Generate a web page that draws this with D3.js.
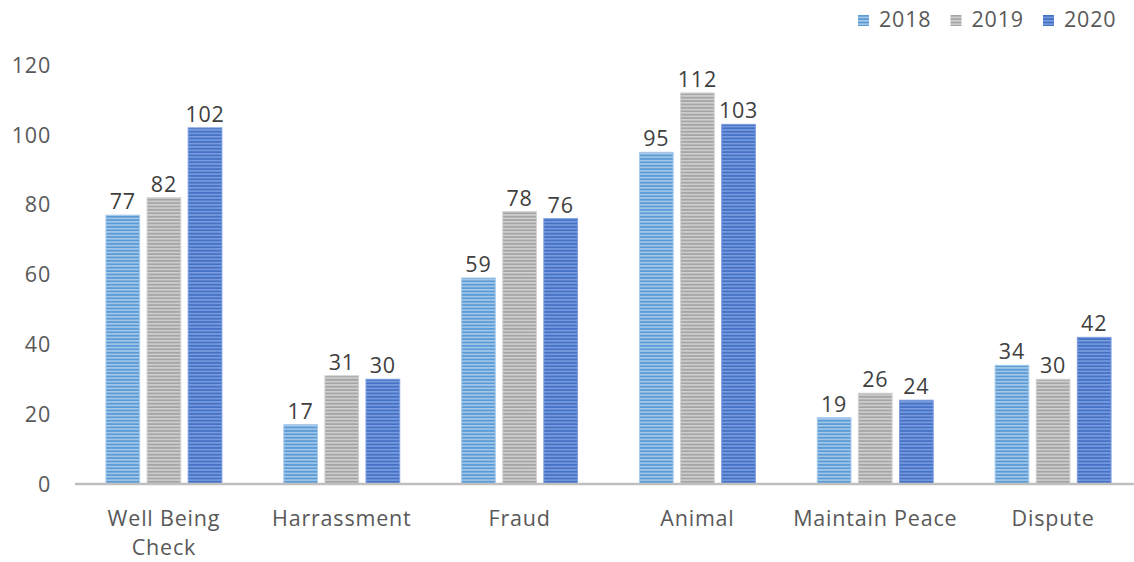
<!DOCTYPE html>
<html>
<head>
<meta charset="utf-8">
<script src="https://cdn.jsdelivr.net/npm/d3@7"></script>
<style>
  html, body { margin: 0; padding: 0; background: #fff; }
  svg { display: block; font-family: "Open Sans", sans-serif; }
  svg text { letter-spacing: 0.8px; }
</style>
</head>
<body>
<svg id="chart" width="1134" height="562"></svg>
<script>
// Call categories and yearly counts
const categories = ["Well Being Check", "Harrassment", "Fraud", "Animal", "Maintain Peace", "Dispute"];
const years = ["2018", "2019", "2020"];
const values2018 = [77, 17, 59, 95, 19, 34];
const values2019 = [82, 31, 78, 112, 26, 30];
const values2020 = [102, 30, 76, 103, 24, 42];
const yTicks = [0, 20, 40, 60, 80, 100, 120];

const seriesValues = [values2018, values2019, values2020];
const fills = [
  { light: "#a9cbec", dark: "#5b9bd5" },
  { light: "#d2d2d2", dark: "#a5a5a5" },
  { light: "#7d9de0", dark: "#4472c4" }
];
const FONT = "'Open Sans', sans-serif";
const FS = "21.5px";

const svg = d3.select("#chart");
const plotLeft = 75, plotRight = 1142, plotTop = 65, plotBottom = 484;

// Horizontal-stripe fills for the bars
const defs = svg.append("defs");
fills.forEach((f, i) => {
  const p = defs.append("pattern")
    .attr("id", "stripe" + i)
    .attr("patternUnits", "userSpaceOnUse")
    .attr("width", 8).attr("height", 3.4);
  p.append("rect").attr("width", 8).attr("height", 3.4).attr("fill", f.dark);
  p.append("rect").attr("y", 0).attr("width", 8).attr("height", 1.5).attr("fill", f.light);
});

const x0 = d3.scaleBand()
  .domain(categories)
  .range([plotLeft, plotRight])
  .paddingInner(0.348)
  .paddingOuter(0.174);

const x1 = d3.scaleBand()
  .domain(years)
  .range([0, x0.bandwidth()])
  .paddingInner(0.18);

const y = d3.scaleLinear()
  .domain([0, 120])
  .range([plotBottom, plotTop]);

// Y axis tick labels (no axis line)
const yAxis = svg.append("g")
  .attr("transform", `translate(${plotLeft - 24},0)`)
  .call(d3.axisLeft(y).tickValues(yTicks).tickSize(0).tickPadding(0));
yAxis.select(".domain").remove();
yAxis.selectAll("text")
  .attr("fill", "#595959")
  .attr("dy", "0.34em")
  .style("font-size", FS)
  .style("font-family", FONT);

// Bars
const groups = svg.append("g").selectAll("g")
  .data(categories)
  .join("g")
  .attr("transform", d => `translate(${x0(d)},0)`);

groups.selectAll("rect")
  .data((d, ci) => years.map((yr, si) => ({ yr, si, v: seriesValues[si][ci] })))
  .join("rect")
  .attr("x", d => x1(d.yr))
  .attr("y", d => y(d.v))
  .attr("width", x1.bandwidth())
  .attr("height", d => y(0) - y(d.v))
  .attr("fill", d => `url(#stripe${d.si})`)
  .attr("stroke", d => fills[d.si].light)
  .attr("stroke-width", 1);

// Value labels
groups.selectAll("text.val")
  .data((d, ci) => years.map((yr, si) => ({ yr, si, v: seriesValues[si][ci] })))
  .join("text")
  .attr("class", "val")
  .attr("x", d => x1(d.yr) + x1.bandwidth() / 2)
  .attr("y", d => y(d.v) - 6)
  .attr("text-anchor", "middle")
  .attr("fill", "#404040")
  .style("font-size", FS)
  .text(d => d.v);

// Category axis
const xAxis = svg.append("g")
  .attr("transform", `translate(0,${plotBottom})`)
  .call(d3.axisBottom(x0).tickSize(0).tickPadding(0));
xAxis.select(".domain")
  .attr("stroke", "#bfbfbf")
  .attr("stroke-width", 2.5)
  .attr("d", `M${plotLeft},0H${plotRight}`);
xAxis.selectAll("text").remove();
xAxis.selectAll(".tick").each(function (d) {
  const t = d3.select(this).append("text")
    .attr("text-anchor", "middle")
    .attr("fill", "#595959")
    .style("font-size", FS)
    .style("font-family", FONT);
  const lines = d === "Well Being Check" ? ["Well Being", "Check"] : [d];
  lines.forEach((ln, i) => {
    t.append("tspan").attr("x", 0).attr("y", 42 + i * 29).text(ln);
  });
});

// Legend
const legend = svg.append("g").attr("transform", "translate(858,20)");
const legendStep = 92.5;
years.forEach((yr, i) => {
  const g = legend.append("g").attr("transform", `translate(${i * legendStep},0)`);
  g.append("rect").attr("x", 0).attr("y", -5).attr("width", 11).attr("height", 11)
    .attr("fill", `url(#stripe${i})`);
  g.append("text").attr("x", 21).attr("y", 7)
    .attr("fill", "#595959")
    .style("font-size", FS)
    .text(yr);
});
</script>
</body>
</html>
